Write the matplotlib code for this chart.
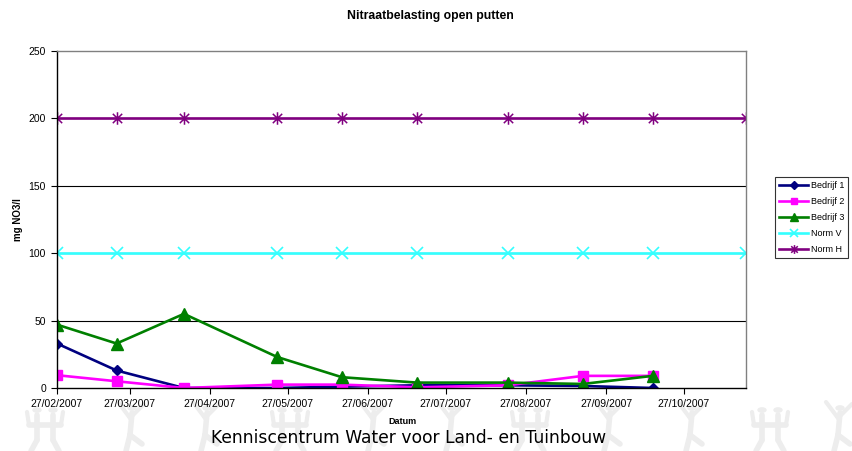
import matplotlib
matplotlib.use("Agg")
import matplotlib.pyplot as plt
import matplotlib.dates as mdates
from matplotlib.lines import Line2D
from matplotlib.patches import Circle
from matplotlib.path import Path
import datetime as dt

# ---- data ----
dates = ["2007-02-27", "2007-03-22", "2007-04-17", "2007-05-23", "2007-06-17",
         "2007-07-16", "2007-08-20", "2007-09-18", "2007-10-15"]
norm_dates = dates + ["2007-11-20"]
bedrijf1 = [33, 13, 0, 0, 1, 2, 2, 1.5, 0]
bedrijf2 = [9.5, 5, 0, 2.5, 2.5, 0.5, 2, 9, 9]
bedrijf3 = [47, 33, 55, 23, 8, 4, 4, 3, 9]
norm_v = [100] * len(norm_dates)
norm_h = [200] * len(norm_dates)
tick_dates = ["2007-02-27", "2007-03-27", "2007-04-27", "2007-05-27", "2007-06-27",
              "2007-07-27", "2007-08-27", "2007-09-27", "2007-10-27"]
yticks = [0, 50, 100, 150, 200, 250]

title = "Nitraatbelasting open putten"
ylabel = "mg NO3/l"
xlabel = "Datum"
caption = "Kenniscentrum Water voor Land- en Tuinbouw"

def todate(s):
    return dt.datetime.strptime(s, "%Y-%m-%d")

d = [todate(s) for s in dates]
nd = [todate(s) for s in norm_dates]
td = [todate(s) for s in tick_dates]

plt.rcParams['font.family'] = ['Liberation Sans', 'DejaVu Sans']

W, H = 852, 451
fig = plt.figure(figsize=(W/100, H/100), dpi=100)

# ---- decorative watermark (faint dancing figures) ----
WM = '#ededed'
def seg(xs, ys, lw=4):
    fig.add_artist(Line2D([x/W for x in xs], [1-y/H for y in ys], color=WM, lw=lw,
                          solid_capstyle='round', zorder=0))
def head(x, y, r=4):
    fig.add_artist(Circle((x/W, 1-y/H), r/W, color=WM, zorder=0))
def group(cx):
    for dx in (-8, 8):
        head(cx+dx, 410)
        seg([cx+dx, cx+dx], [415, 440])
        seg([cx+dx, cx+dx+(6 if dx > 0 else -6)], [440, 451])
    seg([cx-16, cx+16], [425, 425])
    seg([cx-16, cx-18], [425, 412], lw=3)
    seg([cx+16, cx+18], [425, 412], lw=3)
def dancer(cx):
    head(cx+2, 408)
    seg([cx+2, cx], [413, 435])
    seg([cx, cx-12], [418, 402], lw=3)
    seg([cx, cx+14], [418, 404], lw=3)
    seg([cx, cx-4], [435, 451])
    seg([cx, cx+12], [435, 444])
wm_x = [45, 130, 205, 290, 372, 450, 530, 608, 690, 770, 838]
for i, x in enumerate(wm_x):
    (group if i % 3 == 0 else dancer)(x)

# asterisk marker: X plus vertical bar
ast = Path([(0, -1), (0, 1), (-0.75, -0.75), (0.75, 0.75), (-0.75, 0.75), (0.75, -0.75)],
           [Path.MOVETO, Path.LINETO, Path.MOVETO, Path.LINETO, Path.MOVETO, Path.LINETO])

ax = fig.add_axes([57/W, 1-388/H, (746-57)/W, (388-51)/H])

for y in yticks[1:-1]:
    ax.axhline(y, color='black', lw=0.8, zorder=1)

lw = 1.9
ax.plot(d, bedrijf1, color='#000080', lw=lw, marker='D', ms=5.5, label='Bedrijf 1', zorder=3)
ax.plot(d, bedrijf2, color='#FF00FF', lw=lw, marker='s', ms=7, label='Bedrijf 2', zorder=3)
ax.plot(d, bedrijf3, color='#008000', lw=lw, marker='^', ms=8, label='Bedrijf 3', zorder=3)
ax.plot(nd, norm_v, color='#33FFFF', lw=lw, marker='x', ms=8, mew=1.2, label='Norm V', zorder=3)
ax.plot(nd, norm_h, color='#800080', lw=lw, marker=ast, ms=9, mew=1.1, label='Norm H', zorder=3)

ax.set_xlim(nd[0], nd[-1])
ax.set_ylim(0, 250)
ax.set_yticks(yticks)
ax.set_xticks(td)
ax.xaxis.set_major_formatter(mdates.DateFormatter('%d/%m/%Y'))
ax.tick_params(axis='both', labelsize=7.5, length=4, width=0.8, direction='out', color='black')
ax.tick_params(axis='x', pad=4)
ax.tick_params(axis='y', pad=4)
for s in ['left', 'bottom']:
    ax.spines[s].set_color('black')
    ax.spines[s].set_linewidth(1.0)
for s in ['top', 'right']:
    ax.spines[s].set_color('#808080')
    ax.spines[s].set_linewidth(1.0)
for sp in ax.spines.values():
    sp.set_zorder(4)
ax.patch.set_alpha(0)

fig.text(430/W, 1-16/H, title, ha='center', va='center', fontsize=8.8, fontweight='bold')
fig.text(18/W, 1-220/H, ylabel, ha='center', va='center', rotation=90, fontsize=7, fontweight='bold')
fig.text(402/W, 1-422/H, xlabel, ha='center', va='center', fontsize=6.5, fontweight='bold')
fig.text(409/W, 1-438/H, caption, ha='center', va='center', fontsize=12.3, family=['DejaVu Sans'])

leg = fig.legend(loc='upper left', bbox_to_anchor=(775/W, 1-177/H), fontsize=6.5,
                 frameon=True, fancybox=False, edgecolor='black', handlelength=3.2,
                 handletextpad=0.3, borderpad=0.45, labelspacing=0.78, borderaxespad=0,
                 markerscale=0.7)
leg.get_frame().set_linewidth(0.8)

fig.savefig("out.png", dpi=100)
